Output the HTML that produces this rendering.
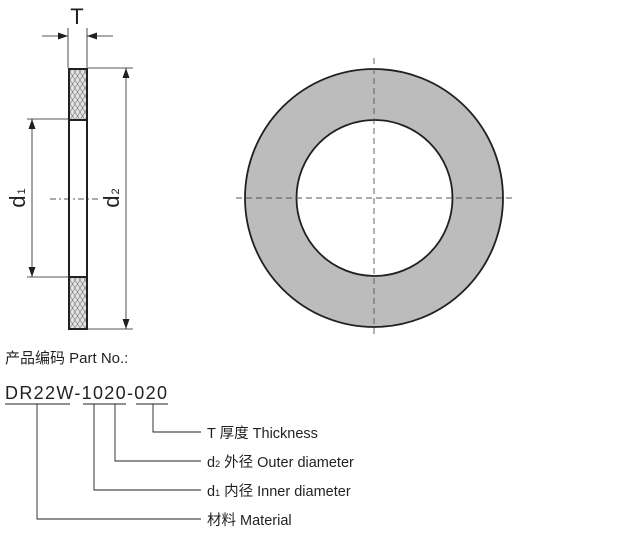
<!DOCTYPE html>
<html><head><meta charset="utf-8"><style>
html,body{margin:0;padding:0;background:#fff;}
svg{display:block;}
text{font-family:"Liberation Sans","Noto Sans CJK SC",sans-serif;fill:#231f20;}
</style></head><body>
<svg width="624" height="533" viewBox="0 0 624 533" xmlns="http://www.w3.org/2000/svg">
<defs>
<pattern id="h" width="5" height="8" patternUnits="userSpaceOnUse">
<rect width="5" height="8" fill="#e4e4e4"/>
<path d="M0 0L5 8M5 0L0 8" stroke="#777" stroke-width="0.6"/>
</pattern>
<marker id="a" viewBox="0 0 10 10" refX="10" refY="5" markerWidth="10" markerHeight="10" markerUnits="userSpaceOnUse" orient="auto"><path d="M0 1.5L10 5L0 8.5Z" fill="#231f20"/></marker>
</defs>
<g stroke="#231f20" fill="none">
<rect x="69" y="69" width="18" height="51" fill="url(#h)" stroke-width="2"/>
<rect x="69" y="277" width="18" height="52" fill="url(#h)" stroke-width="2"/>
<rect x="69" y="69" width="18" height="260" stroke-width="2"/>
<line x1="69" y1="120" x2="87" y2="120" stroke-width="2"/>
<line x1="69" y1="277" x2="87" y2="277" stroke-width="2"/>
<g stroke-width="0.8">
<line x1="68" y1="28" x2="68" y2="68"/>
<line x1="87" y1="28" x2="87" y2="68"/>
<line x1="42" y1="36" x2="68" y2="36" marker-end="url(#a)"/>
<line x1="113" y1="36" x2="87" y2="36" marker-end="url(#a)"/>
<line x1="27" y1="119" x2="68" y2="119"/>
<line x1="27" y1="277" x2="68" y2="277"/>
<line x1="32" y1="198" x2="32" y2="119" marker-end="url(#a)"/>
<line x1="32" y1="198" x2="32" y2="277" marker-end="url(#a)"/>
<line x1="88" y1="68" x2="133" y2="68"/>
<line x1="88" y1="329" x2="133" y2="329"/>
<line x1="126" y1="198" x2="126" y2="68" marker-end="url(#a)"/>
<line x1="126" y1="198" x2="126" y2="329" marker-end="url(#a)"/>
<line x1="50" y1="199" x2="100" y2="199" stroke-dasharray="6,3,2,3"/>
</g>
<circle cx="374" cy="198" r="129" fill="#bcbcbc" stroke-width="1.8"/>
<circle cx="374.5" cy="198" r="78" fill="#fff" stroke-width="1.8"/>
<g stroke="#555" stroke-width="0.9" stroke-dasharray="6,4">
<line x1="236" y1="198" x2="512" y2="198"/>
<line x1="374" y1="58" x2="374" y2="338"/>
</g>
<g stroke-width="0.9">
<line x1="5" y1="404" x2="70" y2="404"/>
<line x1="83" y1="404" x2="126" y2="404"/>
<line x1="136" y1="404" x2="168" y2="404"/>
<polyline points="37,404 37,519 201,519"/>
<polyline points="94,404 94,490 201,490"/>
<polyline points="115,404 115,461 201,461"/>
<polyline points="153,404 153,432 201,432"/>
</g>
</g>
<text x="77" y="24" font-size="22" text-anchor="middle">T</text>
<text transform="translate(25,198) rotate(-90)" font-size="22" text-anchor="middle">d<tspan font-size="11" dx="1">1</tspan></text>
<text transform="translate(119,198) rotate(-90)" font-size="22" text-anchor="middle">d<tspan font-size="11" dx="1">2</tspan></text>
<text x="5" y="363" font-size="15">产品编码 Part No.:</text>
<text x="5" y="399" font-size="18" textLength="162" lengthAdjust="spacing">DR22W-1020-020</text>
<text x="207" y="438" font-size="14.5">T 厚度 Thickness</text>
<text x="207" y="467" font-size="14.5">d<tspan font-size="9">2</tspan> 外径 Outer diameter</text>
<text x="207" y="496" font-size="14.5">d<tspan font-size="9">1</tspan> 内径 Inner diameter</text>
<text x="207" y="525" font-size="14.5">材料 Material</text>
</svg>
</body></html>
